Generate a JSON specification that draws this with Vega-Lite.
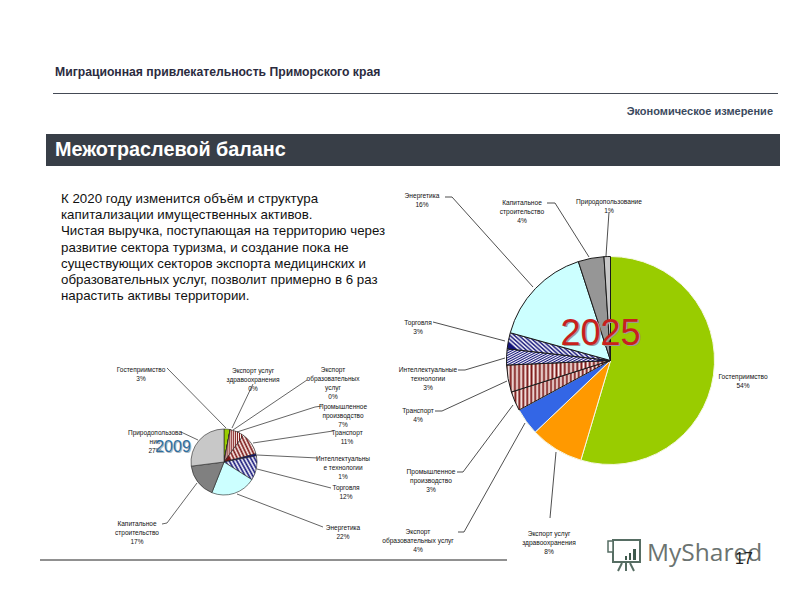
{
"$schema":"https://vega.github.io/schema/vega-lite/v6.json",
"width":800,"height":600,"padding":0,
"autosize":{"type":"fit","contains":"padding"},
"background":"#ffffff",
"config":{"view":{"stroke":null},"text":{"font":"Liberation Sans"}},
"params":[
{"name":"navyA","value":[{"offset":0,"color":"#14147a"},{"offset":0.02,"color":"#ffffff"},{"offset":0.04,"color":"#14147a"},{"offset":0.06,"color":"#ffffff"},{"offset":0.08,"color":"#14147a"},{"offset":0.1,"color":"#ffffff"},{"offset":0.12,"color":"#14147a"},{"offset":0.14,"color":"#ffffff"},{"offset":0.16,"color":"#14147a"},{"offset":0.18,"color":"#ffffff"},{"offset":0.2,"color":"#14147a"},{"offset":0.22,"color":"#ffffff"},{"offset":0.24,"color":"#14147a"},{"offset":0.26,"color":"#ffffff"},{"offset":0.28,"color":"#14147a"},{"offset":0.3,"color":"#ffffff"},{"offset":0.32,"color":"#14147a"},{"offset":0.34,"color":"#ffffff"},{"offset":0.36,"color":"#14147a"},{"offset":0.38,"color":"#ffffff"},{"offset":0.4,"color":"#14147a"},{"offset":0.42,"color":"#ffffff"},{"offset":0.44,"color":"#14147a"},{"offset":0.46,"color":"#ffffff"},{"offset":0.48,"color":"#14147a"},{"offset":0.5,"color":"#ffffff"},{"offset":0.52,"color":"#14147a"},{"offset":0.54,"color":"#ffffff"},{"offset":0.56,"color":"#14147a"},{"offset":0.58,"color":"#ffffff"},{"offset":0.6,"color":"#14147a"},{"offset":0.62,"color":"#ffffff"},{"offset":0.64,"color":"#14147a"},{"offset":0.66,"color":"#ffffff"},{"offset":0.68,"color":"#14147a"},{"offset":0.7,"color":"#ffffff"},{"offset":0.72,"color":"#14147a"},{"offset":0.74,"color":"#ffffff"},{"offset":0.76,"color":"#14147a"},{"offset":0.78,"color":"#ffffff"},{"offset":0.8,"color":"#14147a"},{"offset":0.82,"color":"#ffffff"},{"offset":0.84,"color":"#14147a"},{"offset":0.86,"color":"#ffffff"},{"offset":0.88,"color":"#14147a"},{"offset":0.9,"color":"#ffffff"},{"offset":0.92,"color":"#14147a"},{"offset":0.94,"color":"#ffffff"},{"offset":0.96,"color":"#14147a"},{"offset":0.98,"color":"#ffffff"},{"offset":1,"color":"#14147a"}]},
{"name":"redA","value":[{"offset":0,"color":"#7a1414"},{"offset":0.02,"color":"#fff4f0"},{"offset":0.04,"color":"#7a1414"},{"offset":0.06,"color":"#fff4f0"},{"offset":0.08,"color":"#7a1414"},{"offset":0.1,"color":"#fff4f0"},{"offset":0.12,"color":"#7a1414"},{"offset":0.14,"color":"#fff4f0"},{"offset":0.16,"color":"#7a1414"},{"offset":0.18,"color":"#fff4f0"},{"offset":0.2,"color":"#7a1414"},{"offset":0.22,"color":"#fff4f0"},{"offset":0.24,"color":"#7a1414"},{"offset":0.26,"color":"#fff4f0"},{"offset":0.28,"color":"#7a1414"},{"offset":0.3,"color":"#fff4f0"},{"offset":0.32,"color":"#7a1414"},{"offset":0.34,"color":"#fff4f0"},{"offset":0.36,"color":"#7a1414"},{"offset":0.38,"color":"#fff4f0"},{"offset":0.4,"color":"#7a1414"},{"offset":0.42,"color":"#fff4f0"},{"offset":0.44,"color":"#7a1414"},{"offset":0.46,"color":"#fff4f0"},{"offset":0.48,"color":"#7a1414"},{"offset":0.5,"color":"#fff4f0"},{"offset":0.52,"color":"#7a1414"},{"offset":0.54,"color":"#fff4f0"},{"offset":0.56,"color":"#7a1414"},{"offset":0.58,"color":"#fff4f0"},{"offset":0.6,"color":"#7a1414"},{"offset":0.62,"color":"#fff4f0"},{"offset":0.64,"color":"#7a1414"},{"offset":0.66,"color":"#fff4f0"},{"offset":0.68,"color":"#7a1414"},{"offset":0.7,"color":"#fff4f0"},{"offset":0.72,"color":"#7a1414"},{"offset":0.74,"color":"#fff4f0"},{"offset":0.76,"color":"#7a1414"},{"offset":0.78,"color":"#fff4f0"},{"offset":0.8,"color":"#7a1414"},{"offset":0.82,"color":"#fff4f0"},{"offset":0.84,"color":"#7a1414"},{"offset":0.86,"color":"#fff4f0"},{"offset":0.88,"color":"#7a1414"},{"offset":0.9,"color":"#fff4f0"},{"offset":0.92,"color":"#7a1414"},{"offset":0.94,"color":"#fff4f0"},{"offset":0.96,"color":"#7a1414"},{"offset":0.98,"color":"#fff4f0"},{"offset":1,"color":"#7a1414"}]},
{"name":"navyB","value":[{"offset":0,"color":"#14147a"},{"offset":0.05,"color":"#ffffff"},{"offset":0.1,"color":"#14147a"},{"offset":0.15,"color":"#ffffff"},{"offset":0.2,"color":"#14147a"},{"offset":0.25,"color":"#ffffff"},{"offset":0.3,"color":"#14147a"},{"offset":0.35,"color":"#ffffff"},{"offset":0.4,"color":"#14147a"},{"offset":0.45,"color":"#ffffff"},{"offset":0.5,"color":"#14147a"},{"offset":0.55,"color":"#ffffff"},{"offset":0.6,"color":"#14147a"},{"offset":0.65,"color":"#ffffff"},{"offset":0.7,"color":"#14147a"},{"offset":0.75,"color":"#ffffff"},{"offset":0.8,"color":"#14147a"},{"offset":0.85,"color":"#ffffff"},{"offset":0.9,"color":"#14147a"},{"offset":0.95,"color":"#ffffff"},{"offset":1,"color":"#14147a"}]},
{"name":"redB","value":[{"offset":0,"color":"#7a1414"},{"offset":0.05,"color":"#fff4f0"},{"offset":0.1,"color":"#7a1414"},{"offset":0.15,"color":"#fff4f0"},{"offset":0.2,"color":"#7a1414"},{"offset":0.25,"color":"#fff4f0"},{"offset":0.3,"color":"#7a1414"},{"offset":0.35,"color":"#fff4f0"},{"offset":0.4,"color":"#7a1414"},{"offset":0.45,"color":"#fff4f0"},{"offset":0.5,"color":"#7a1414"},{"offset":0.55,"color":"#fff4f0"},{"offset":0.6,"color":"#7a1414"},{"offset":0.65,"color":"#fff4f0"},{"offset":0.7,"color":"#7a1414"},{"offset":0.75,"color":"#fff4f0"},{"offset":0.8,"color":"#7a1414"},{"offset":0.85,"color":"#fff4f0"},{"offset":0.9,"color":"#7a1414"},{"offset":0.95,"color":"#fff4f0"},{"offset":1,"color":"#7a1414"}]}
],
"datasets":{
"sectors":[
{"pie":2025,"order":1,"sector":"Гостеприимство","value":54.6,"label":"Гостеприимство\n54%"},
{"pie":2025,"order":2,"sector":"Экспорт услуг здравоохранения","value":8.3,"label":"Экспорт услуг\nздравоохранения\n8%"},
{"pie":2025,"order":3,"sector":"Экспорт образовательных услуг","value":4.2,"label":"Экспорт\nобразовательных услуг\n4%"},
{"pie":2025,"order":4,"sector":"Промышленное производство","value":3,"label":"Промышленное\nпроизводство\n3%"},
{"pie":2025,"order":5,"sector":"Транспорт","value":4.2,"label":"Транспорт\n4%"},
{"pie":2025,"order":6,"sector":"Интеллектуальные технологии","value":2.5,"label":"Интеллектуальные\nтехнологии\n3%"},
{"pie":2025,"order":7,"sector":"Торговля","value":2.5,"label":"Торговля\n3%"},
{"pie":2025,"order":8,"sector":"Энергетика","value":15.7,"label":"Энергетика\n16%"},
{"pie":2025,"order":9,"sector":"Капитальное строительство","value":4,"label":"Капитальное\nстроительство\n4%"},
{"pie":2025,"order":10,"sector":"Природопользование","value":1,"label":"Природопользование\n1%"},
{"pie":2009,"order":1,"sector":"Гостеприимство","value":3,"label":"Гостеприимство\n3%"},
{"pie":2009,"order":2,"sector":"Экспорт услуг здравоохранения","value":0,"label":"Экспорт услуг\nздравоохранения\n0%"},
{"pie":2009,"order":3,"sector":"Экспорт образовательных услуг","value":0,"label":"Экспорт\nобразовательных\nуслуг\n0%"},
{"pie":2009,"order":4,"sector":"Промышленное производство","value":7,"label":"Промышленное\nпроизводство\n7%"},
{"pie":2009,"order":5,"sector":"Транспорт","value":11,"label":"Транспорт\n11%"},
{"pie":2009,"order":6,"sector":"Интеллектуальные технологии","value":1,"label":"Интеллектуальны\nе технологии\n1%"},
{"pie":2009,"order":7,"sector":"Торговля","value":12,"label":"Торговля\n12%"},
{"pie":2009,"order":8,"sector":"Энергетика","value":22,"label":"Энергетика\n22%"},
{"pie":2009,"order":9,"sector":"Капитальное строительство","value":17,"label":"Капитальное\nстроительство\n17%"},
{"pie":2009,"order":10,"sector":"Природопользование","value":27,"label":"Природопользова\nние\n27%"}
],
"notes":[
{"id":"top","text":"Миграционная привлекательность Приморского края"},
{"id":"dim","text":"Экономическое измерение"},
{"id":"head","text":"Межотраслевой баланс"},
{"id":"body","text":"К 2020 году изменится объём и структура\nкапитализации имущественных активов.\nЧистая выручка, поступающая на территорию через\nразвитие сектора туризма, и создание пока не\nсуществующих секторов экспорта медицинских и\nобразовательных услуг, позволит примерно в 6 раз\nнарастить активы территории."},
{"id":"y2025","text":"2025"},
{"id":"y2009","text":"2009"},
{"id":"page","text":"17"},
{"id":"mark","text":"MyShared"}
]
},
"data":{"name":"sectors"},
"encoding":{
"x":{"type":"quantitative","scale":{"domain":[0,800],"nice":false,"zero":false},"axis":null},
"y":{"type":"quantitative","scale":{"domain":[600,0],"nice":false,"zero":false},"axis":null}
},
"layer":[
{"data":{"name":"notes"},"transform":[{"filter":"datum.id=='head'"}],"layer":[
{"mark":{"type":"rect","fill":"#383e47"},"encoding":{"x":{"datum":46},"x2":{"datum":780},"y":{"datum":134},"y2":{"datum":166}}},
{"mark":{"type":"text","fill":"#ffffff","fontWeight":"bold","fontSize":19.8,"align":"left","baseline":"middle"},"encoding":{"x":{"datum":55},"y":{"datum":150},"text":{"field":"text"}}}
]},
{"data":{"name":"notes"},"transform":[{"filter":"datum.id=='top'"}],"layer":[
{"mark":{"type":"text","fill":"#2b2b40","fontWeight":"bold","fontSize":12.2,"align":"left","baseline":"middle"},"encoding":{"x":{"datum":55},"y":{"datum":72},"text":{"field":"text"}}},
{"mark":{"type":"rule","stroke":"#444a55","strokeWidth":1},"encoding":{"x":{"datum":53},"x2":{"datum":778},"y":{"datum":93.5}}}
]},
{"data":{"name":"notes"},"transform":[{"filter":"datum.id=='dim'"}],"mark":{"type":"text","fill":"#3b4a5e","fontWeight":"bold","fontSize":11,"align":"right","baseline":"middle"},"encoding":{"x":{"datum":773},"y":{"datum":112},"text":{"field":"text"}}},
{"data":{"name":"notes"},"transform":[{"filter":"datum.id=='body'"}],"mark":{"type":"text","fill":"#111111","fontSize":13.3,"align":"left","baseline":"top","lineBreak":"\n","lineHeight":16.2},"encoding":{"x":{"datum":61},"y":{"datum":192},"text":{"field":"text"}}},
{"data":{"name":"notes"},"transform":[{"filter":"datum.id=='mark'"}],"layer":[
{"mark":{"type":"rule","stroke":"#222222","strokeWidth":1},"encoding":{"x":{"datum":40},"x2":{"datum":507},"y":{"datum":560}}},
{"mark":{"type":"text","fill":"#6b7370","fontSize":24.5,"font":"Open Sans","align":"left","baseline":"middle"},"encoding":{"x":{"datum":647},"y":{"datum":554},"text":{"field":"text"}}},
{"mark":{"type":"rect","fill":"#ffffff","stroke":"#566d63","strokeWidth":2},"encoding":{"x":{"datum":613},"x2":{"datum":640},"y":{"datum":540},"y2":{"datum":562}}},
{"mark":{"type":"rect","fill":"#ffffff","stroke":"#566d63","strokeWidth":1.5},"encoding":{"x":{"datum":608},"x2":{"datum":613},"y":{"datum":541},"y2":{"datum":552}}},
{"mark":{"type":"rect","fill":"#3f5a4e"},"encoding":{"x":{"datum":625},"x2":{"datum":627},"y":{"datum":556},"y2":{"datum":560}}},
{"mark":{"type":"rect","fill":"#3f5a4e"},"encoding":{"x":{"datum":629},"x2":{"datum":631},"y":{"datum":553},"y2":{"datum":560}}},
{"mark":{"type":"rect","fill":"#3f5a4e"},"encoding":{"x":{"datum":633},"x2":{"datum":636},"y":{"datum":549},"y2":{"datum":560}}},
{"mark":{"type":"rule","stroke":"#566d63","strokeWidth":2},"encoding":{"x":{"datum":622},"y":{"datum":563},"x2":{"datum":618},"y2":{"datum":571}}},
{"mark":{"type":"rule","stroke":"#566d63","strokeWidth":2},"encoding":{"x":{"datum":626},"y":{"datum":563},"x2":{"datum":626},"y2":{"datum":571}}},
{"mark":{"type":"rule","stroke":"#566d63","strokeWidth":2},"encoding":{"x":{"datum":630},"y":{"datum":563},"x2":{"datum":634},"y2":{"datum":571}}}
]},
{"data":{"name":"notes"},"transform":[{"filter":"datum.id=='page'"}],"mark":{"type":"text","fill":"#222222","fontSize":16,"align":"center","baseline":"middle"},"encoding":{"x":{"datum":744},"y":{"datum":559},"text":{"field":"text"}}},
{"transform":[{"filter":"datum.pie==2025"}],"mark":{"type":"arc","outerRadius":104},
"encoding":{"x":{"datum":610.5},"y":{"datum":360.5},
"theta":{"field":"value","type":"quantitative","scale":{"domain":[0,100]},"stack":true},
"order":{"field":"order"},
"fill":{"condition":[
{"test":"datum.sector=='Торговля'","value":{"expr":"{gradient:'linear',x1:0,y1:0.3,x2:1,y2:0,stops:navyA}"}},
{"test":"datum.sector=='Интеллектуальные технологии'","value":{"expr":"{gradient:'linear',x1:0,y1:0,x2:1,y2:0.3,stops:navyA}"}},
{"test":"datum.sector=='Транспорт'||datum.sector=='Промышленное производство'","value":{"expr":"{gradient:'linear',x1:0,y1:0,x2:1,y2:0,stops:redA}"}}
],"field":"sector","type":"nominal","legend":null,"scale":{"domain":["Гостеприимство","Экспорт услуг здравоохранения","Экспорт образовательных услуг","Энергетика","Капитальное строительство","Природопользование","Торговля","Интеллектуальные технологии","Транспорт","Промышленное производство"],"range":["#99cc00","#ff9900","#3366e6","#ccffff","#969696","#c8c8c8","#14147a","#14147a","#7a1414","#7a1414"]}},
"stroke":{"condition":{"test":"datum.order<=3","value":"#f6f8e4"},"value":"#1a1a1a"},
"strokeWidth":{"value":1}}},
{"transform":[{"filter":"datum.pie==2009"}],"mark":{"type":"arc","outerRadius":33},
"encoding":{"x":{"datum":224},"y":{"datum":462},
"theta":{"field":"value","type":"quantitative","scale":{"domain":[0,100]},"stack":true},
"order":{"field":"order"},
"fill":{"condition":[
{"test":"datum.sector=='Капитальное строительство'","value":"#808080"},
{"test":"datum.sector=='Торговля'","value":{"expr":"{gradient:'linear',x1:0,y1:0.4,x2:1,y2:0,stops:navyB}"}},
{"test":"datum.sector=='Интеллектуальные технологии'","value":"#14147a"},
{"test":"datum.sector=='Транспорт'","value":{"expr":"{gradient:'linear',x1:0,y1:0.4,x2:1,y2:0,stops:redB}"}},
{"test":"datum.sector=='Промышленное производство'","value":{"expr":"{gradient:'linear',x1:0,y1:0,x2:1,y2:0,stops:redB}"}}
],"field":"sector","type":"nominal","legend":null},
"stroke":{"value":"#222222"},"strokeWidth":{"value":0.6}}},
{"transform":[{"filter":"datum.pie==2025&&datum.order==1"}],"mark":{"type":"text","fontSize":6.6,"fill":"#111111","lineBreak":"\n","lineHeight":9,"align":"center","baseline":"middle"},"encoding":{"x":{"datum":743},"y":{"datum":376.5},"text":{"field":"label"}}},
{"transform":[{"filter":"datum.pie==2025&&datum.order==2"}],"layer":[
{"mark":{"type":"text","fontSize":6.6,"fill":"#111111","lineBreak":"\n","lineHeight":9,"align":"center","baseline":"middle"},"encoding":{"x":{"datum":549},"y":{"datum":534},"text":{"field":"label"}}},
{"mark":{"type":"rule","stroke":"#222222","strokeWidth":0.8},"encoding":{"x":{"datum":550},"y":{"datum":518},"x2":{"datum":556},"y2":{"datum":452}}}
]},
{"transform":[{"filter":"datum.pie==2025&&datum.order==3"}],"layer":[
{"mark":{"type":"text","fontSize":6.6,"fill":"#111111","lineBreak":"\n","lineHeight":9,"align":"center","baseline":"middle"},"encoding":{"x":{"datum":418},"y":{"datum":532},"text":{"field":"label"}}},
{"mark":{"type":"rule","stroke":"#222222","strokeWidth":0.8},"encoding":{"x":{"datum":458},"y":{"datum":532},"x2":{"datum":464},"y2":{"datum":532}}},
{"mark":{"type":"rule","stroke":"#222222","strokeWidth":0.8},"encoding":{"x":{"datum":464},"y":{"datum":532},"x2":{"datum":525},"y2":{"datum":423}}}
]},
{"transform":[{"filter":"datum.pie==2025&&datum.order==4"}],"layer":[
{"mark":{"type":"text","fontSize":6.6,"fill":"#111111","lineBreak":"\n","lineHeight":9,"align":"center","baseline":"middle"},"encoding":{"x":{"datum":431},"y":{"datum":472},"text":{"field":"label"}}},
{"mark":{"type":"rule","stroke":"#222222","strokeWidth":0.8},"encoding":{"x":{"datum":457},"y":{"datum":472},"x2":{"datum":463},"y2":{"datum":472}}},
{"mark":{"type":"rule","stroke":"#222222","strokeWidth":0.8},"encoding":{"x":{"datum":463},"y":{"datum":472},"x2":{"datum":513},"y2":{"datum":405}}}
]},
{"transform":[{"filter":"datum.pie==2025&&datum.order==5"}],"layer":[
{"mark":{"type":"text","fontSize":6.6,"fill":"#111111","lineBreak":"\n","lineHeight":9,"align":"center","baseline":"middle"},"encoding":{"x":{"datum":418},"y":{"datum":410.5},"text":{"field":"label"}}},
{"mark":{"type":"rule","stroke":"#222222","strokeWidth":0.8},"encoding":{"x":{"datum":435},"y":{"datum":411},"x2":{"datum":442},"y2":{"datum":411}}},
{"mark":{"type":"rule","stroke":"#222222","strokeWidth":0.8},"encoding":{"x":{"datum":442},"y":{"datum":411},"x2":{"datum":507},"y2":{"datum":381}}}
]},
{"transform":[{"filter":"datum.pie==2025&&datum.order==6"}],"layer":[
{"mark":{"type":"text","fontSize":6.6,"fill":"#111111","lineBreak":"\n","lineHeight":9,"align":"center","baseline":"middle"},"encoding":{"x":{"datum":428},"y":{"datum":370},"text":{"field":"label"}}},
{"mark":{"type":"rule","stroke":"#222222","strokeWidth":0.8},"encoding":{"x":{"datum":458},"y":{"datum":370},"x2":{"datum":465},"y2":{"datum":370}}},
{"mark":{"type":"rule","stroke":"#222222","strokeWidth":0.8},"encoding":{"x":{"datum":465},"y":{"datum":370},"x2":{"datum":505},"y2":{"datum":358}}}
]},
{"transform":[{"filter":"datum.pie==2025&&datum.order==7"}],"layer":[
{"mark":{"type":"text","fontSize":6.6,"fill":"#111111","lineBreak":"\n","lineHeight":9,"align":"center","baseline":"middle"},"encoding":{"x":{"datum":418},"y":{"datum":322.5},"text":{"field":"label"}}},
{"mark":{"type":"rule","stroke":"#222222","strokeWidth":0.8},"encoding":{"x":{"datum":433},"y":{"datum":322},"x2":{"datum":505},"y2":{"datum":341}}}
]},
{"transform":[{"filter":"datum.pie==2025&&datum.order==8"}],"layer":[
{"mark":{"type":"text","fontSize":6.6,"fill":"#111111","lineBreak":"\n","lineHeight":9,"align":"center","baseline":"middle"},"encoding":{"x":{"datum":422},"y":{"datum":195.5},"text":{"field":"label"}}},
{"mark":{"type":"rule","stroke":"#222222","strokeWidth":0.8},"encoding":{"x":{"datum":445},"y":{"datum":197},"x2":{"datum":452},"y2":{"datum":197}}},
{"mark":{"type":"rule","stroke":"#222222","strokeWidth":0.8},"encoding":{"x":{"datum":452},"y":{"datum":197},"x2":{"datum":533},"y2":{"datum":287}}}
]},
{"transform":[{"filter":"datum.pie==2025&&datum.order==9"}],"layer":[
{"mark":{"type":"text","fontSize":6.6,"fill":"#111111","lineBreak":"\n","lineHeight":9,"align":"center","baseline":"middle"},"encoding":{"x":{"datum":522},"y":{"datum":202.5},"text":{"field":"label"}}},
{"mark":{"type":"rule","stroke":"#222222","strokeWidth":0.8},"encoding":{"x":{"datum":547},"y":{"datum":203},"x2":{"datum":555},"y2":{"datum":203}}},
{"mark":{"type":"rule","stroke":"#222222","strokeWidth":0.8},"encoding":{"x":{"datum":555},"y":{"datum":203},"x2":{"datum":589},"y2":{"datum":257}}}
]},
{"transform":[{"filter":"datum.pie==2025&&datum.order==10"}],"layer":[
{"mark":{"type":"text","fontSize":6.6,"fill":"#111111","lineBreak":"\n","lineHeight":9,"align":"center","baseline":"middle"},"encoding":{"x":{"datum":609},"y":{"datum":201.5},"text":{"field":"label"}}},
{"mark":{"type":"rule","stroke":"#222222","strokeWidth":0.8},"encoding":{"x":{"datum":609},"y":{"datum":212},"x2":{"datum":606},"y2":{"datum":256}}}
]},
{"transform":[{"filter":"datum.pie==2009&&datum.order==1"}],"layer":[
{"mark":{"type":"text","fontSize":6.5,"fill":"#111111","lineBreak":"\n","lineHeight":9,"align":"center","baseline":"middle"},"encoding":{"x":{"datum":141},"y":{"datum":369.5},"text":{"field":"label"}}},
{"mark":{"type":"rule","stroke":"#222222","strokeWidth":0.7},"encoding":{"x":{"datum":167},"y":{"datum":368},"x2":{"datum":226},"y2":{"datum":428}}}
]},
{"transform":[{"filter":"datum.pie==2009&&datum.order==2"}],"layer":[
{"mark":{"type":"text","fontSize":6.5,"fill":"#111111","lineBreak":"\n","lineHeight":9,"align":"center","baseline":"middle"},"encoding":{"x":{"datum":253},"y":{"datum":371},"text":{"field":"label"}}},
{"mark":{"type":"rule","stroke":"#222222","strokeWidth":0.7},"encoding":{"x":{"datum":253},"y":{"datum":384},"x2":{"datum":232},"y2":{"datum":428}}}
]},
{"transform":[{"filter":"datum.pie==2009&&datum.order==3"}],"layer":[
{"mark":{"type":"text","fontSize":6.5,"fill":"#111111","lineBreak":"\n","lineHeight":9,"align":"center","baseline":"middle"},"encoding":{"x":{"datum":333},"y":{"datum":370},"text":{"field":"label"}}},
{"mark":{"type":"rule","stroke":"#222222","strokeWidth":0.7},"encoding":{"x":{"datum":307},"y":{"datum":380},"x2":{"datum":233},"y2":{"datum":430}}}
]},
{"transform":[{"filter":"datum.pie==2009&&datum.order==4"}],"layer":[
{"mark":{"type":"text","fontSize":6.5,"fill":"#111111","lineBreak":"\n","lineHeight":9,"align":"center","baseline":"middle"},"encoding":{"x":{"datum":343},"y":{"datum":406.5},"text":{"field":"label"}}},
{"mark":{"type":"rule","stroke":"#222222","strokeWidth":0.7},"encoding":{"x":{"datum":322},"y":{"datum":406},"x2":{"datum":315},"y2":{"datum":407}}},
{"mark":{"type":"rule","stroke":"#222222","strokeWidth":0.7},"encoding":{"x":{"datum":315},"y":{"datum":407},"x2":{"datum":237},"y2":{"datum":432}}}
]},
{"transform":[{"filter":"datum.pie==2009&&datum.order==5"}],"layer":[
{"mark":{"type":"text","fontSize":6.5,"fill":"#111111","lineBreak":"\n","lineHeight":9,"align":"center","baseline":"middle"},"encoding":{"x":{"datum":347},"y":{"datum":433},"text":{"field":"label"}}},
{"mark":{"type":"rule","stroke":"#222222","strokeWidth":0.7},"encoding":{"x":{"datum":333},"y":{"datum":431},"x2":{"datum":253},"y2":{"datum":443}}}
]},
{"transform":[{"filter":"datum.pie==2009&&datum.order==6"}],"layer":[
{"mark":{"type":"text","fontSize":6.5,"fill":"#111111","lineBreak":"\n","lineHeight":9,"align":"center","baseline":"middle"},"encoding":{"x":{"datum":343},"y":{"datum":458.5},"text":{"field":"label"}}},
{"mark":{"type":"rule","stroke":"#222222","strokeWidth":0.7},"encoding":{"x":{"datum":318},"y":{"datum":458},"x2":{"datum":257},"y2":{"datum":455}}}
]},
{"transform":[{"filter":"datum.pie==2009&&datum.order==7"}],"layer":[
{"mark":{"type":"text","fontSize":6.5,"fill":"#111111","lineBreak":"\n","lineHeight":9,"align":"center","baseline":"middle"},"encoding":{"x":{"datum":346},"y":{"datum":487.5},"text":{"field":"label"}}},
{"mark":{"type":"rule","stroke":"#222222","strokeWidth":0.7},"encoding":{"x":{"datum":331},"y":{"datum":488},"x2":{"datum":257},"y2":{"datum":469}}}
]},
{"transform":[{"filter":"datum.pie==2009&&datum.order==8"}],"layer":[
{"mark":{"type":"text","fontSize":6.5,"fill":"#111111","lineBreak":"\n","lineHeight":9,"align":"center","baseline":"middle"},"encoding":{"x":{"datum":343},"y":{"datum":527.5},"text":{"field":"label"}}},
{"mark":{"type":"rule","stroke":"#222222","strokeWidth":0.7},"encoding":{"x":{"datum":323},"y":{"datum":527},"x2":{"datum":237},"y2":{"datum":494}}}
]},
{"transform":[{"filter":"datum.pie==2009&&datum.order==9"}],"layer":[
{"mark":{"type":"text","fontSize":6.5,"fill":"#111111","lineBreak":"\n","lineHeight":9,"align":"center","baseline":"middle"},"encoding":{"x":{"datum":137},"y":{"datum":524},"text":{"field":"label"}}},
{"mark":{"type":"rule","stroke":"#222222","strokeWidth":0.7},"encoding":{"x":{"datum":162},"y":{"datum":524},"x2":{"datum":167},"y2":{"datum":523}}},
{"mark":{"type":"rule","stroke":"#222222","strokeWidth":0.7},"encoding":{"x":{"datum":167},"y":{"datum":523},"x2":{"datum":197},"y2":{"datum":483}}}
]},
{"transform":[{"filter":"datum.pie==2009&&datum.order==10"}],"layer":[
{"mark":{"type":"text","fontSize":6.5,"fill":"#111111","lineBreak":"\n","lineHeight":9,"align":"center","baseline":"middle"},"encoding":{"x":{"datum":155},"y":{"datum":432.5},"text":{"field":"label"}}},
{"mark":{"type":"rule","stroke":"#222222","strokeWidth":0.7},"encoding":{"x":{"datum":181},"y":{"datum":432},"x2":{"datum":198},"y2":{"datum":440}}}
]},
{"data":{"name":"notes"},"transform":[{"filter":"datum.id=='y2025'"}],"layer":[
{"mark":{"type":"text","fill":"#9a9a9a","fontSize":36,"align":"center","baseline":"middle"},"encoding":{"x":{"datum":602},"y":{"datum":335},"text":{"field":"text"}}},
{"mark":{"type":"text","fill":"#c8201c","fontSize":36,"align":"center","baseline":"middle"},"encoding":{"x":{"datum":600.5},"y":{"datum":333.5},"text":{"field":"text"}}}
]},
{"data":{"name":"notes"},"transform":[{"filter":"datum.id=='y2009'"}],"layer":[
{"mark":{"type":"text","fill":"#b0b8c0","fontSize":16,"align":"center","baseline":"middle"},"encoding":{"x":{"datum":174},"y":{"datum":448},"text":{"field":"text"}}},
{"mark":{"type":"text","fill":"#2f6f9f","fontSize":16,"align":"center","baseline":"middle"},"encoding":{"x":{"datum":173},"y":{"datum":447},"text":{"field":"text"}}}
]}
]
}
